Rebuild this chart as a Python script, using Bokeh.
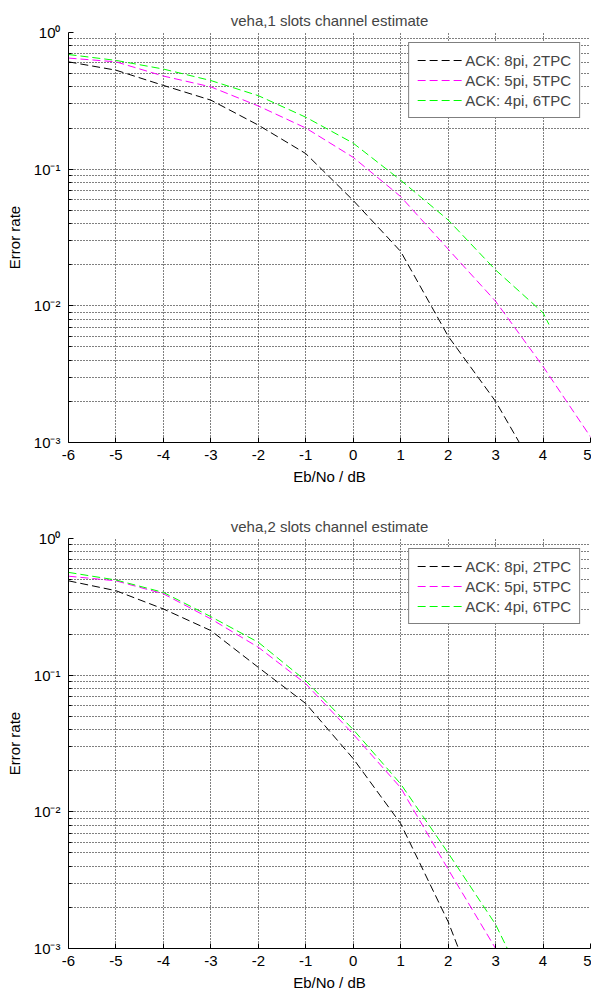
from bokeh.plotting import figure
from bokeh.layouts import column
from bokeh.models import FixedTicker, CustomJSTickFormatter, Range1d, Legend, LegendItem
from bokeh.embed import file_html
from bokeh.resources import INLINE

# ---------------- data ----------------
titles = ["veha,1 slots channel estimate", "veha,2 slots channel estimate"]
series_names = ["ACK: 8pi, 2TPC", "ACK: 5pi, 5TPC", "ACK: 4pi, 6TPC"]
series_colors = ["#000000", "#ff00ff", "#00ff00"]

# panel 1 (1 slot channel estimate)
p1_black_x = [-6, -5, -4, -3, -2, -1, 0, 1, 2, 3, 4]
p1_black_y = [0.61, 0.53, 0.41, 0.32, 0.21, 0.13, 0.059, 0.025, 0.006, 0.002, 0.0005]
p1_magenta_x = [-6, -5, -4, -3, -2, -1, 0, 1, 2, 3, 4, 5]
p1_magenta_y = [0.65, 0.61, 0.48, 0.40, 0.29, 0.20, 0.122, 0.063, 0.026, 0.0108, 0.0036, 0.0011]
p1_green_x = [-6, -5, -4, -3, -2, -1, 0, 1, 2, 3, 4, 4.125]
p1_green_y = [0.69, 0.625, 0.54, 0.445, 0.345, 0.24, 0.155, 0.083, 0.0425, 0.0183, 0.0089, 0.0073]

# panel 2 (2 slots channel estimate)
p2_black_x = [-6, -5, -4, -3, -2, -1, 0, 1, 2, 3]
p2_black_y = [0.49, 0.415, 0.305, 0.212, 0.114, 0.062, 0.0245, 0.0082, 0.00157, 0.0002]
p2_magenta_x = [-6, -5, -4, -3, -2, -1, 0, 1, 2, 3]
p2_magenta_y = [0.53, 0.49, 0.394, 0.258, 0.16, 0.0865, 0.037, 0.015, 0.0038, 0.001]
p2_green_x = [-6, -5, -4, -3, -2, -1, 0, 1, 2, 3, 4]
p2_green_y = [0.565, 0.497, 0.403, 0.268, 0.174, 0.091, 0.040, 0.016, 0.005, 0.0015, 0.00029]

x_ticks = [-6, -5, -4, -3, -2, -1, 0, 1, 2, 3, 4, 5]
x_tick_labels = ["-6", "-5", "-4", "-3", "-2", "-1", "0", "1", "2", "3", "4", "5"]
y_major_ticks = [0.001, 0.01, 0.1, 1.0]
y_minor_mantissas = [2, 3, 4, 5, 6, 7, 8, 9]
x_label = "Eb/No / dB"
y_label = "Error rate"

FONT = "Liberation Sans"
FS = "15px"


def make_panel(title, data, height, top, bottom):
    p = figure(width=591, height=height, y_axis_type="log",
               output_backend="svg", toolbar_location=None,
               min_border_left=68, min_border_right=1,
               min_border_top=top, min_border_bottom=bottom,
               x_range=Range1d(-6, 5), y_range=Range1d(1e-3, 1))
    p.title.text = title
    p.title.align = "center"
    p.title.text_font = FONT
    p.title.text_font_size = FS
    p.title.text_font_style = "normal"
    p.title.standoff = 8
    p.outline_line_color = None
    p.background_fill_color = "white"
    p.border_fill_color = "white"

    minor = [m * 10.0 ** e for e in (-3, -2, -1) for m in y_minor_mantissas]
    p.yaxis.ticker = FixedTicker(ticks=y_major_ticks, minor_ticks=minor)
    p.yaxis.formatter = CustomJSTickFormatter(code="""
        const e = Math.round(Math.log10(tick));
        const sup = {"0":"\u2070","1":"\u00b9","2":"\u00b2","3":"\u00b3","-":"\u207b"};
        return "10" + String(e).split("").map(c => sup[c]).join("");
    """)
    p.xaxis.ticker = FixedTicker(ticks=x_ticks)
    p.xaxis.major_label_overrides = {t: l for t, l in zip(x_ticks, x_tick_labels)}

    for ax in (p.xaxis, p.yaxis):
        ax.axis_line_color = "black"
        ax.major_tick_line_color = "black"
        ax.major_tick_in = 5
        ax.major_tick_out = 0
        ax.major_label_text_font = FONT
        ax.major_label_text_font_size = FS
        ax.major_label_text_color = "black"
        ax.axis_label_text_font = FONT
        ax.axis_label_text_font_size = FS
        ax.axis_label_text_font_style = "normal"
        ax.axis_label_text_color = "black"
    p.xaxis.minor_tick_line_color = None
    p.yaxis.minor_tick_line_color = "black"
    p.yaxis.minor_tick_in = 3
    p.yaxis.minor_tick_out = 0
    p.xaxis.major_label_standoff = 7
    p.yaxis.major_label_standoff = 8
    p.yaxis.axis_label_standoff = 8
    p.xaxis.axis_label_standoff = 5
    p.xaxis.axis_label = x_label
    p.yaxis.axis_label = y_label

    p.xgrid.grid_line_color = "black"
    p.xgrid.grid_line_dash = "1 2"
    p.ygrid.grid_line_color = "black"
    p.ygrid.grid_line_dash = "1 2"
    p.ygrid.minor_grid_line_color = "black"
    p.ygrid.minor_grid_line_dash = "1 2"

    items = []
    for (xs, ys), name, col in zip(data, series_names, series_colors):
        r = p.line(xs, ys, line_color=col, line_width=1, line_dash="8 4")
        items.append(LegendItem(label=name, renderers=[r]))
    leg = Legend(items=items, location="top_right")
    leg.margin = 10
    leg.padding = 8
    leg.spacing = 2
    leg.glyph_width = 45
    leg.glyph_height = 18
    leg.label_height = 18
    leg.label_standoff = 3
    leg.label_text_font = FONT
    leg.label_text_font_size = FS
    leg.border_line_color = "black"
    leg.border_line_width = 1
    leg.background_fill_color = "white"
    leg.background_fill_alpha = 1.0
    p.add_layout(leg)
    return p


p_top = make_panel(titles[0],
                   [(p1_black_x, p1_black_y), (p1_magenta_x, p1_magenta_y), (p1_green_x, p1_green_y)],
                   490, 32, 48)
p_bot = make_panel(titles[1],
                   [(p2_black_x, p2_black_y), (p2_magenta_x, p2_magenta_y), (p2_green_x, p2_green_y)],
                   504, 48, 46)

layout = column(p_top, p_bot, spacing=0)
open("out.html", "w").write(file_html(layout, INLINE))
